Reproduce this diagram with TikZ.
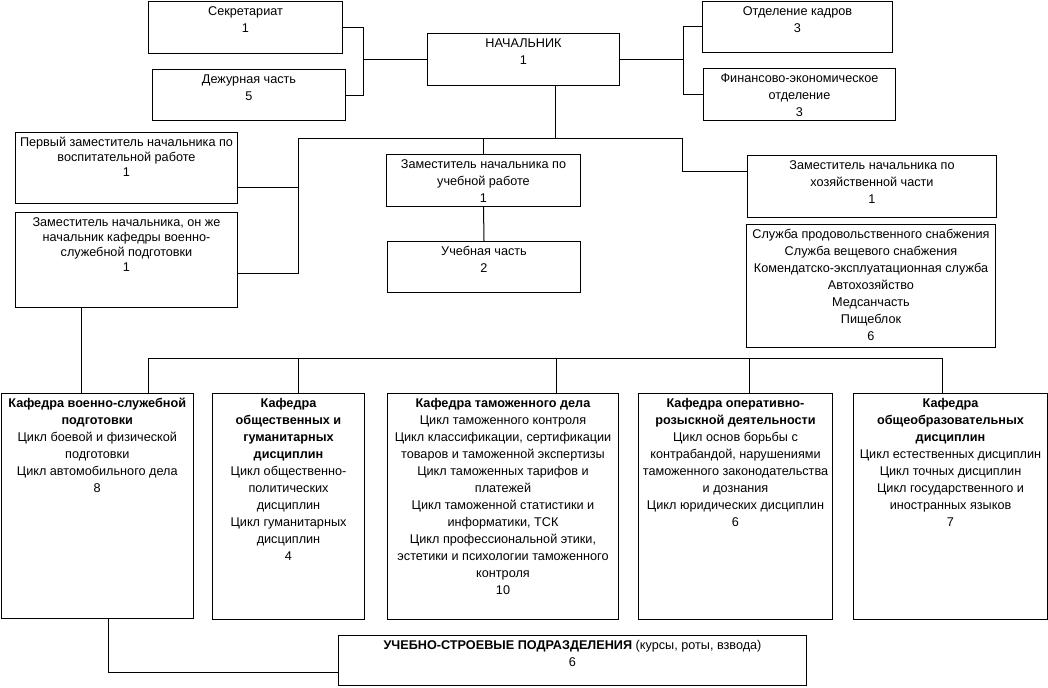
\documentclass[tikz,border=0pt]{standalone}
\usepackage{fontspec}
\setmainfont{Liberation Sans}
\newdimen\pxu
\pxu=0.75pt
% box text: [line skip]{width}{height}{lines}
\newcommand{\bx}[4][12.75pt]{\parbox[t][#3\pxu][t]{#2\pxu}{\centering\fontsize{9.5}{#1}\selectfont\rule{0pt}{10.5pt}#4}}
\tikzset{
  orgbox/.style={draw, line width=0.75pt, anchor=north west, inner sep=0pt},
  link/.style={line width=0.75pt}
}

\begin{document}
\begin{tikzpicture}[x=0.75pt, y=-0.75pt]
\useasboundingbox (0,0) rectangle (1048,687);

\node[orgbox] (sec) at (148,1) {\bx{194}{52}{Секретариат\\1}};
\node[orgbox] (duty) at (152,69) {\bx{193}{51}{Дежурная часть\\5}};
\node[orgbox] (boss) at (427,33) {\bx{192}{52}{НАЧАЛЬНИК\\1}};
\node[orgbox] (kadry) at (702,0.5) {\bx{190}{51.5}{Отделение кадров\\3}};
\node[orgbox] (fin) at (703,68) {\bx{192}{52}{Финансово-экономическое\\отделение\\3}};

\node[orgbox] (dfirst) at (15,132) {\bx[11.25pt]{222}{71}{Первый заместитель начальника по\\воспитательной работе\\1}};
\node[orgbox] (dkaf) at (15,212) {\bx[11.25pt]{222}{95}{Заместитель начальника, он же\\начальник кафедры военно-\\служебной подготовки\\1}};
\node[orgbox] (dedu) at (386,154) {\bx{194}{52}{Заместитель начальника по\\учебной работе\\1}};
\node[orgbox] (uchch) at (387,241) {\bx{193}{51}{Учебная часть\\2}};
\node[orgbox] (dhoz) at (747,155) {\bx{249}{62}{Заместитель начальника по\\хозяйственной части\\1}};
\node[orgbox] (serv) at (746,224) {\bx{249}{123}{Служба продовольственного снабжения\\Служба вещевого снабжения\\Комендатско-эксплуатационная служба\\Автохозяйство\\Медсанчасть\\Пищеблок\\6}};

\node[orgbox] (kvsp) at (0.5,393) {\bx{192.5}{225}{\textbf{Кафедра военно-служебной\\подготовки}\\Цикл боевой и физической\\подготовки\\Цикл автомобильного дела\\8}};
\node[orgbox] (kobsh) at (212,393) {\bx{152}{226}{\textbf{Кафедра\\общественных и\\гуманитарных\\дисциплин}\\Цикл общественно-\\политических\\дисциплин\\Цикл гуманитарных\\дисциплин\\4}};
\node[orgbox] (ktam) at (387,393) {\bx{231}{226}{\textbf{Кафедра таможенного дела}\\Цикл таможенного контроля\\Цикл классификации, сертификации\\товаров и таможенной экспертизы\\Цикл таможенных тарифов и\\платежей\\Цикл таможенной статистики и\\информатики, ТСК\\Цикл профессиональной этики,\\эстетики и психологии таможенного\\контроля\\10}};
\node[orgbox] (kord) at (638,393) {\bx{194}{226}{\textbf{Кафедра оперативно-\\розыскной деятельности}\\Цикл основ борьбы с\\контрабандой, нарушениями\\таможенного законодательства\\и дознания\\Цикл юридических дисциплин\\6}};
\node[orgbox] (kobr) at (853,393) {\bx{194}{226}{\textbf{Кафедра\\общеобразовательных\\дисциплин}\\Цикл естественных дисциплин\\Цикл точных дисциплин\\Цикл государственного и\\иностранных языков\\7}};
\node[orgbox] (ustr) at (338,635) {\bx{468}{50}{\textbf{УЧЕБНО-СТРОЕВЫЕ ПОДРАЗДЕЛЕНИЯ} (курсы, роты, взвода)\\6}};

% top
\draw[link] (sec.east) -- ++(20,0) coordinate (lj) |- (duty.east);
\draw[link] (boss.west) -- (boss.west -| lj);
\draw[link] (boss.east) -- ++(63,0) coordinate (rj);
\draw[link] (kadry.west) -| (rj) |- (fin.west);

% deputies
\coordinate (hub) at (555,138);
\coordinate (lbus) at (298,138);
\coordinate (rbus) at (682,138);
\coordinate (jf) at (298,187);
\coordinate (jk) at (298,273);
\draw[link] (boss.south -| hub) -- (hub);
\draw[link] (lbus) -- (rbus) |- ([yshift=11.25pt]dhoz.west);
\draw[link] (dedu.north |- lbus) -- (dedu.north);
\draw[link] (dedu.south) -- (uchch.north);
\draw[link] (lbus) -- (jk) -- (jk -| dkaf.east);
\draw[link] (jf) -- (jf -| dfirst.east);

% departments
\draw[link] (dkaf.south west) ++(66,0) coordinate (kd) -- (kd |- kvsp.north);
\coordinate (kbus) at (148,358);
\coordinate (kbusr) at (942,358);
\draw[link] (kbus) -- (kbusr);
\foreach \x/\k in {148/kvsp, 298/kobsh, 556/ktam, 749/kord, 942/kobr}
  \draw[link] (\x,358) |- (\k.north);
\draw[link] ([xshift=8.25pt]kvsp.south) |- ([yshift=-9pt]ustr.west);
\end{tikzpicture}
\end{document}
